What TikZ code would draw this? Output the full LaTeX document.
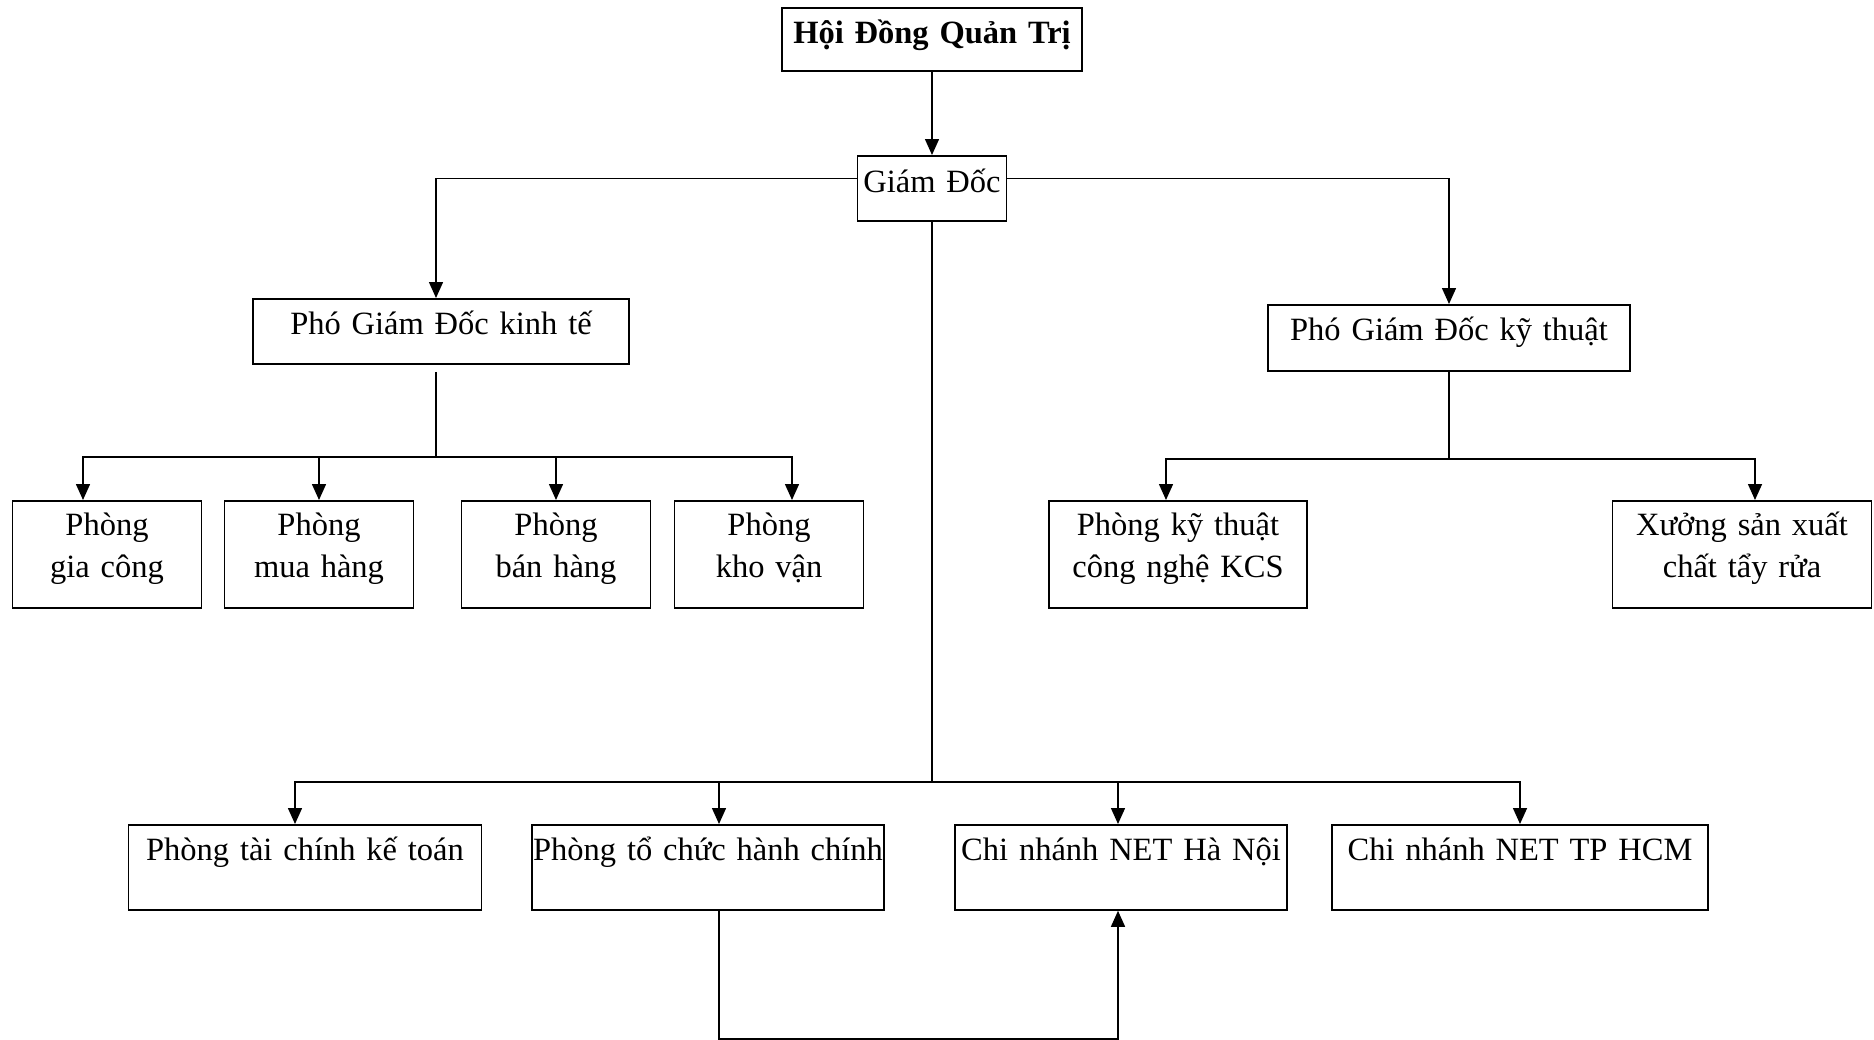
\documentclass[tikz,border=0pt]{standalone}
\usepackage{fontspec}
\setmainfont{Liberation Serif}
\usetikzlibrary{arrows.meta, positioning}

\begin{document}
\begin{tikzpicture}[
    x=1pt, y=-1pt,
    every node/.style={draw, line width=1.8pt, inner sep=0pt, align=center, anchor=north, font=\fontsize{32.5}{42}\selectfont},
    top row/.style={text height=35pt, text depth=72pt},
    low row/.style={text height=36pt, text depth=49pt},
    arrow/.style={-{Triangle[length=16pt, width=14pt]}, line width=1.5pt},
    plain line/.style={line width=1.5pt}]

\useasboundingbox (0,0) rectangle (1874,1039);

\node[font=\fontsize{32.5}{42}\selectfont\bfseries, text width=300pt, text height=36pt, text depth=27pt] (hdqt) at (932,7) {Hội Đồng Quản Trị};
\node[text width=149pt, text height=37pt, text depth=28pt] (giamdoc) at (932,155) {Giám Đốc};

\node[text width=376pt, text height=36pt, text depth=29pt] (pgdkinhte) at (441,298) {Phó Giám Đốc kinh tế};
\node[text width=362pt, text height=36pt, text depth=30pt] (pgdkythuat) at (1449,304) {Phó Giám Đốc kỹ thuật};

\node[top row, text width=189pt] (giacong) at (107,500) {Phòng\\gia công};
\node[top row, text width=189pt] (muahang) at (319,500) {Phòng\\mua hàng};
\node[top row, text width=189pt] (banhang) at (556,500) {Phòng\\bán hàng};
\node[top row, text width=189pt] (khovan) at (769,500) {Phòng\\kho vận};

\node[top row, text width=258pt] (kythuat) at (1178,500) {Phòng kỹ thuật\\công nghệ KCS};
\node[top row, text width=259pt] (xuong) at (1742,500) {Xưởng sản xuất\\chất tẩy rửa};

\node[low row, text width=353pt] (taichinh) at (305,824) {Phòng tài chính kế toán};
\node[low row, text width=352pt] (tochuc) at (708,824) {\mbox{Phòng tổ chức hành chính}};
\node[low row, text width=332pt] (hanoi) at (1121,824) {Chi nhánh NET Hà Nội};
\node[low row, text width=376pt] (hcm) at (1520,824) {Chi nhánh NET TP HCM};

\draw[arrow] (hdqt) -- (giamdoc);
\draw[arrow] ([yshift=10pt]giamdoc.west) -| ([xshift=-5pt]pgdkinhte.north);
\draw[arrow] ([yshift=10pt]giamdoc.east) -| (pgdkythuat.north);

\draw[plain line] ([xshift=-5pt, yshift=-7pt]pgdkinhte.south) -- ++(0,85) coordinate (ktbus);
\foreach \n/\dx in {giacong/-24, muahang/0, banhang/0, khovan/23}
  \draw[arrow] (ktbus) -| ([xshift=\dx pt]\n.north);

\draw[plain line] (pgdkythuat.south) -- ++(0,87) coordinate (kybus);
\foreach \n/\dx in {kythuat/-12, xuong/13}
  \draw[arrow] (kybus) -| ([xshift=\dx pt]\n.north);

\draw[plain line] (giamdoc.south) -- ++(0,560) coordinate (gdbus);
\foreach \n/\dx in {taichinh/-10, tochuc/11, hanoi/-3, hcm/0}
  \draw[arrow] (gdbus) -| ([xshift=\dx pt]\n.north);

\draw[arrow] ([xshift=11pt]tochuc.south) -- ++(0,128) -| ([xshift=-3pt]hanoi.south);

\end{tikzpicture}
\end{document}
